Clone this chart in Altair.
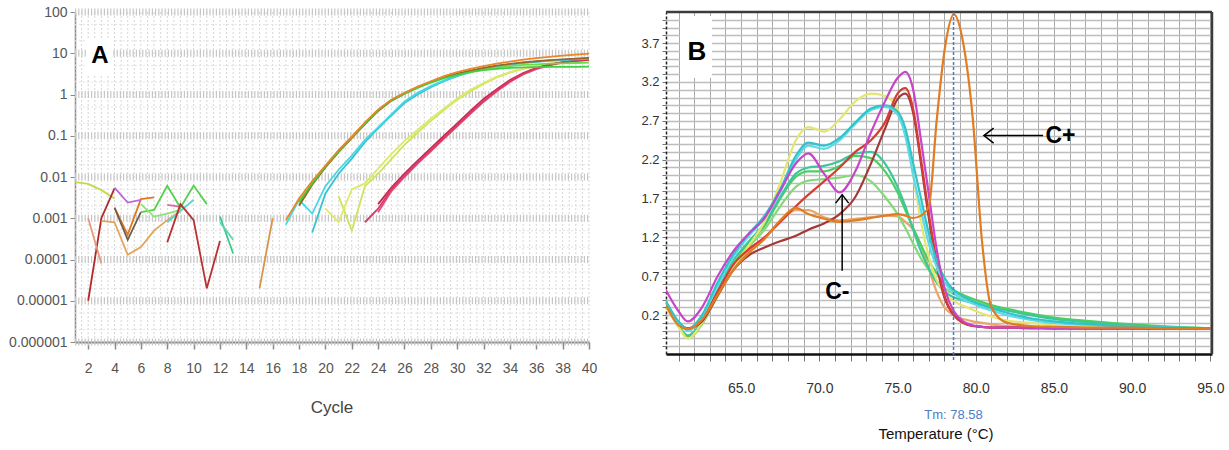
import altair as alt
import pandas as pd

FONT_N = "Liberation Sans, Arial, sans-serif"

# ======================= Panel A : amplification curves (log scale) =======================
A_CYCLE_TICKS = list(range(2, 41, 2))
A_Y_TICKS = [1e-6, 1e-5, 1e-4, 1e-3, 1e-2, 1e-1, 1, 10, 100]

AMP_GREEN_CYC = list(range(18, 41))
AMP_GREEN_VAL = [0.0025, 0.007, 0.018, 0.042, 0.09, 0.2, 0.42, 0.72, 1.05, 1.45, 1.95, 2.5,
                 3.0, 3.5, 3.9, 4.2, 4.4, 4.55, 4.6, 4.65, 4.7, 4.7, 4.75]
AMP_ORANGE_CYC = list(range(17, 41))
AMP_ORANGE_VAL = [0.0009, 0.003, 0.008, 0.019, 0.045, 0.095, 0.21, 0.43, 0.75, 1.1, 1.55, 2.1,
                  2.8, 3.5, 4.2, 4.9, 5.6, 6.3, 7.0, 7.6, 8.2, 8.8, 9.3, 9.8]
AMP_BROWN_CYC = list(range(18, 41))
AMP_BROWN_VAL = [0.002, 0.0065, 0.017, 0.04, 0.088, 0.19, 0.4, 0.7, 1.05, 1.5, 2.0, 2.6,
                 3.2, 3.8, 4.4, 5.0, 5.5, 6.0, 6.4, 6.8, 7.1, 7.4, 7.7]
AMP_LIME_CYC = list(range(18, 41))
AMP_LIME_VAL = [0.0022, 0.0068, 0.018, 0.043, 0.092, 0.2, 0.42, 0.74, 1.1, 1.5, 2.0, 2.55,
                3.1, 3.6, 4.1, 4.5, 4.9, 5.2, 5.4, 5.6, 5.7, 5.8, 5.9]
AMP_CYAN1_CYC = list(range(17, 41))
AMP_CYAN1_VAL = [0.0007, 0.0028, 0.0013, 0.006, 0.015, 0.033, 0.08, 0.16, 0.33, 0.68, 1.1, 1.6,
                 2.2, 2.9, 3.6, 4.3, 4.9, 5.4, 5.9, 6.3, 6.7, 7.0, 7.3, 7.6]
AMP_CYAN2_CYC = list(range(19, 41))
AMP_CYAN2_VAL = [0.00045, 0.004, 0.012, 0.028, 0.07, 0.15, 0.31, 0.62, 1.0, 1.5, 2.1, 2.8,
                 3.5, 4.2, 4.8, 5.3, 5.8, 6.2, 6.5, 6.8, 7.1, 7.3]
AMP_YELLOW1_CYC = list(range(20, 41))
AMP_YELLOW1_VAL = [0.0017, 0.0008, 0.005, 0.007, 0.016, 0.036, 0.075, 0.14, 0.26, 0.46, 0.8,
                   1.3, 1.9, 2.7, 3.5, 4.3, 5.0, 5.6, 6.1, 6.5, 6.9]
AMP_YELLOW2_CYC = list(range(21, 41))
AMP_YELLOW2_VAL = [0.0035, 0.0005, 0.006, 0.012, 0.027, 0.06, 0.12, 0.23, 0.42, 0.75, 1.2,
                   1.8, 2.6, 3.4, 4.2, 4.9, 5.5, 6.0, 6.4, 6.8]
AMP_CRIMSON1_CYC = list(range(23, 41))
AMP_CRIMSON1_VAL = [0.0008, 0.0017, 0.005, 0.011, 0.023, 0.045, 0.09, 0.18, 0.36, 0.7, 1.25,
                    2.1, 3.2, 4.3, 5.3, 6.1, 6.7, 7.2]
AMP_CRIMSON2_CYC = list(range(24, 41))
AMP_CRIMSON2_VAL = [0.0022, 0.0055, 0.012, 0.025, 0.05, 0.1, 0.2, 0.4, 0.78, 1.35, 2.25,
                    3.3, 4.4, 5.3, 6.0, 6.5, 6.9]
AMP_CRIMSON3_CYC = list(range(24, 41))
AMP_CRIMSON3_VAL = [0.0014, 0.0045, 0.01, 0.021, 0.042, 0.085, 0.17, 0.34, 0.66, 1.2, 2.0,
                    3.05, 4.1, 5.1, 5.9, 6.5, 7.0]

N_OLIVE_CYC, N_OLIVE_VAL = [1, 2, 3, 4], [0.0075, 0.0068, 0.0048, 0.003]
N_DKRED1_CYC, N_DKRED1_VAL = [2, 3, 4], [0.00001, 0.001, 0.0053]
N_SALMON_CYC, N_SALMON_VAL = [2, 3], [0.001, 0.00008]
N_TAN_CYC = [3, 4, 5, 6, 7, 8, 9]
N_TAN_VAL = [0.00086, 0.0008, 0.00013, 0.0002, 0.0005, 0.0009, 0.0015]
N_ORANGE_CYC, N_ORANGE_VAL = [4, 5, 6, 7], [0.0018, 0.0004, 0.0029, 0.0032]
N_GRAY_CYC, N_GRAY_VAL = [4, 5, 6], [0.0018, 0.0003, 0.0014]
N_VIOLET_CYC, N_VIOLET_VAL = [4, 5, 6], [0.0055, 0.0024, 0.0028]
N_GREEN_CYC = [6, 7, 8, 9, 10, 11]
N_GREEN_VAL = [0.0014, 0.0016, 0.0061, 0.0018, 0.0062, 0.0022]
N_LTGREEN_CYC, N_LTGREEN_VAL = [6, 7, 8, 9], [0.0022, 0.0011, 0.0013, 0.0016]
N_CYAN_CYC, N_CYAN_VAL = [8, 9, 10], [0.0008, 0.0015, 0.0028]
N_PINK_CYC, N_PINK_VAL = [8, 9], [0.0021, 0.0019]
N_DKRED2_CYC = [8, 9, 10, 11, 12]
N_DKRED2_VAL = [0.00026, 0.0022, 0.0009, 0.00002, 0.00028]
N_TEAL1_CYC, N_TEAL1_VAL = [12, 13], [0.0011, 0.00014]
N_TEAL2_CYC, N_TEAL2_VAL = [12, 13], [0.0008, 0.0003]
N_ORANGE2_CYC, N_ORANGE2_VAL = [15, 16], [0.00002, 0.001]

A_CURVES = {
    "n_olive": (N_OLIVE_CYC, N_OLIVE_VAL, "#c5d84a"),
    "n_dkred1": (N_DKRED1_CYC, N_DKRED1_VAL, "#b02a2a"),
    "n_salmon": (N_SALMON_CYC, N_SALMON_VAL, "#e49a78"),
    "n_tan": (N_TAN_CYC, N_TAN_VAL, "#e2a55a"),
    "n_orange": (N_ORANGE_CYC, N_ORANGE_VAL, "#e07a20"),
    "n_gray": (N_GRAY_CYC, N_GRAY_VAL, "#6e5e50"),
    "n_violet": (N_VIOLET_CYC, N_VIOLET_VAL, "#c065e0"),
    "n_green": (N_GREEN_CYC, N_GREEN_VAL, "#55d04a"),
    "n_ltgreen": (N_LTGREEN_CYC, N_LTGREEN_VAL, "#8fe07a"),
    "n_cyan": (N_CYAN_CYC, N_CYAN_VAL, "#5ad6d0"),
    "n_pink": (N_PINK_CYC, N_PINK_VAL, "#e06aa8"),
    "n_dkred2": (N_DKRED2_CYC, N_DKRED2_VAL, "#b83232"),
    "n_teal1": (N_TEAL1_CYC, N_TEAL1_VAL, "#3cc88a"),
    "n_teal2": (N_TEAL2_CYC, N_TEAL2_VAL, "#5ad6b0"),
    "n_orange2": (N_ORANGE2_CYC, N_ORANGE2_VAL, "#d8954a"),
    "a_yellow2": (AMP_YELLOW2_CYC, AMP_YELLOW2_VAL, "#cde45c"),
    "a_yellow1": (AMP_YELLOW1_CYC, AMP_YELLOW1_VAL, "#dfe86b"),
    "a_crimson3": (AMP_CRIMSON3_CYC, AMP_CRIMSON3_VAL, "#e2507e"),
    "a_crimson2": (AMP_CRIMSON2_CYC, AMP_CRIMSON2_VAL, "#c8284e"),
    "a_crimson1": (AMP_CRIMSON1_CYC, AMP_CRIMSON1_VAL, "#d83a6a"),
    "a_cyan2": (AMP_CYAN2_CYC, AMP_CYAN2_VAL, "#36c4d4"),
    "a_cyan1": (AMP_CYAN1_CYC, AMP_CYAN1_VAL, "#49d6e4"),
    "a_lime": (AMP_LIME_CYC, AMP_LIME_VAL, "#6ddc4a"),
    "a_brown": (AMP_BROWN_CYC, AMP_BROWN_VAL, "#9b6428"),
    "a_green": (AMP_GREEN_CYC, AMP_GREEN_VAL, "#3fcf3f"),
    "a_orange": (AMP_ORANGE_CYC, AMP_ORANGE_VAL, "#e8862a"),
}

A_GRID_CYCLES = [1 + 0.5 * i for i in range(79)]
A_GRID_MINOR = [k * 10.0 ** e for e in range(-6, 2) for k in (2, 5)]

# ======================= Panel B : melting curves =======================
MELT_T = [60.2, 61.0, 61.6, 62.5, 63.5, 64.5, 65.5, 66.5, 67.5, 68.5,
          69.3, 70.3, 71.3, 72.3, 73.3, 74.2, 75.0, 75.5, 76.0, 76.5,
          77.0, 77.5, 78.0, 78.6, 79.2, 79.8, 80.4, 81.0, 82.0, 83.5,
          85.0, 87.5, 90.0, 92.5, 95.0]
MELT_CYAN1 = [0.38, 0.12, 0.02, 0.2, 0.62, 0.98, 1.25, 1.48, 1.82, 2.25,
              2.42, 2.38, 2.48, 2.68, 2.86, 2.9, 2.82, 2.6, 2.15, 1.7,
              1.25, 0.9, 0.68, 0.52, 0.44, 0.38, 0.33, 0.29, 0.23, 0.16,
              0.12, 0.08, 0.05, 0.04, 0.03]
MELT_CYAN2 = [0.36, 0.1, 0.0, 0.18, 0.58, 0.95, 1.22, 1.45, 1.78, 2.2,
              2.38, 2.34, 2.45, 2.66, 2.84, 2.88, 2.78, 2.5, 2.0, 1.55,
              1.12, 0.82, 0.62, 0.48, 0.4, 0.35, 0.3, 0.26, 0.2, 0.14,
              0.1, 0.07, 0.05, 0.04, 0.03]
MELT_YELLOW = [0.3, 0.05, -0.1, 0.1, 0.45, 0.82, 1.1, 1.4, 1.9, 2.45,
               2.62, 2.56, 2.72, 2.95, 3.05, 3.02, 2.85, 2.55, 2.0, 1.4,
               0.95, 0.65, 0.48, 0.38, 0.32, 0.27, 0.22, 0.18, 0.13, 0.1,
               0.07, 0.05, 0.04, 0.03, 0.03]
MELT_MAGENTA = [0.52, 0.25, 0.12, 0.3, 0.7, 1.02, 1.25, 1.45, 1.8, 2.15,
                2.28, 2.02, 1.78, 2.05, 2.55, 2.95, 3.25, 3.33, 3.1, 2.45,
                1.75, 1.05, 0.55, 0.25, 0.12, 0.07, 0.05, 0.04, 0.04, 0.04,
                0.03, 0.03, 0.03, 0.03, 0.03]
MELT_RED = [0.35, 0.1, 0.03, 0.15, 0.5, 0.85, 1.05, 1.2, 1.4, 1.6,
            1.75, 1.92, 2.1, 2.3, 2.45, 2.68, 3.05, 3.12, 2.85, 2.2,
            1.5, 0.9, 0.45, 0.2, 0.1, 0.06, 0.05, 0.04, 0.04, 0.04,
            0.03, 0.03, 0.03, 0.03, 0.03]
MELT_BROWN = [0.34, 0.09, 0.03, 0.12, 0.45, 0.78, 0.97, 1.07, 1.15, 1.22,
              1.3, 1.38, 1.5, 1.72, 2.15, 2.6, 2.98, 3.05, 2.8, 2.15,
              1.45, 0.85, 0.42, 0.2, 0.1, 0.06, 0.05, 0.04, 0.04, 0.03,
              0.03, 0.03, 0.03, 0.03, 0.03]
MELT_GREEN1 = [0.36, 0.08, -0.08, 0.1, 0.5, 0.85, 1.12, 1.35, 1.7, 1.98,
               2.05, 2.05, 2.12, 2.25, 2.22, 2.05, 1.78, 1.55, 1.32, 1.1,
               0.9, 0.74, 0.62, 0.52, 0.46, 0.41, 0.37, 0.33, 0.28, 0.22,
               0.17, 0.12, 0.08, 0.05, 0.03]
MELT_GREEN2 = [0.35, 0.06, -0.1, 0.08, 0.45, 0.8, 1.08, 1.3, 1.6, 1.85,
               1.93, 1.95, 1.97, 2.0, 1.92, 1.72, 1.5, 1.32, 1.12, 0.93,
               0.78, 0.64, 0.55, 0.47, 0.42, 0.38, 0.35, 0.32, 0.27, 0.21,
               0.16, 0.11, 0.07, 0.05, 0.03]
MELT_GREEN3 = [0.34, 0.05, -0.06, 0.12, 0.52, 0.9, 1.15, 1.38, 1.72, 2.02,
               2.1, 2.12, 2.18, 2.28, 2.3, 2.15, 1.85, 1.6, 1.3, 1.02,
               0.8, 0.62, 0.5, 0.43, 0.39, 0.36, 0.33, 0.3, 0.26, 0.2,
               0.15, 0.1, 0.07, 0.04, 0.03]
MELT_TAN = [0.34, 0.08, 0.03, 0.15, 0.48, 0.8, 1.02, 1.2, 1.4, 1.55,
            1.55, 1.46, 1.42, 1.44, 1.46, 1.48, 1.47, 1.4, 1.3, 1.1,
            0.8, 0.5, 0.3, 0.2, 0.15, 0.12, 0.1, 0.08, 0.06, 0.05,
            0.04, 0.03, 0.03, 0.03, 0.03]
MELT_CPLUS = [0.33, 0.07, 0.02, 0.14, 0.46, 0.78, 1.0, 1.18, 1.42, 1.58,
              1.5, 1.44, 1.4, 1.42, 1.45, 1.48, 1.5, 1.48, 1.45, 1.48,
              1.6, 2.7, 3.6, 4.07, 3.7, 2.75, 1.15, 0.3, 0.1, 0.06,
              0.05, 0.04, 0.04, 0.03, 0.03]

B_CURVES = {
    "tan": (MELT_TAN, "#eaa66a"),
    "green2": (MELT_GREEN2, "#86d97a"),
    "green1": (MELT_GREEN1, "#4ccf5e"),
    "green3": (MELT_GREEN3, "#3cc79a"),
    "yellow": (MELT_YELLOW, "#e4e672"),
    "brown": (MELT_BROWN, "#a23a3a"),
    "red": (MELT_RED, "#d63c32"),
    "cyan2": (MELT_CYAN2, "#5fd9ea"),
    "cyan1": (MELT_CYAN1, "#2fc4c9"),
    "magenta": (MELT_MAGENTA, "#c844c8"),
    "cplus": (MELT_CPLUS, "#e07c22"),
}

B_X_DOMAIN = [60.2, 95.1]
B_Y_DOMAIN = [-0.3, 4.1]
B_X_TICKVALS = list(range(61, 96))
B_Y_TICKVALS = [round(-0.2 + 0.1 * i, 1) for i in range(43)]
TM_VALUE = 78.58

CPLUS_ARROW_T, CPLUS_ARROW_V = [80.52, 84.3], [2.51, 2.51]
CMINUS_ARROW_T, CMINUS_ARROW_V = [71.46, 71.46], [1.75, 0.77]
CPLUS_LABEL = ("C+", 84.45, 2.51)
CMINUS_LABEL = ("C-", 71.15, 0.5)

A_W, A_H = 514, 330
B_W, B_H = 546, 342

# ------------------------- build panel A -------------------------
a_rows = []
for name, (cyc, val, _c) in A_CURVES.items():
    for c, v in zip(cyc, val):
        a_rows.append({"curveA": name, "cycle": c, "value": v})
a_df = pd.DataFrame(a_rows)
a_names = list(A_CURVES.keys())
a_colors = [A_CURVES[n][2] for n in a_names]

xA = alt.X("cycle:Q", scale=alt.Scale(domain=[1, 40], nice=False, zero=False),
           axis=alt.Axis(values=A_CYCLE_TICKS, title=None, grid=False,
                         domainColor="#8a8a8a", domainWidth=2, tickColor="#8a8a8a",
                         tickSize=7, tickWidth=1.5, labelFont=FONT_N, labelFontSize=14,
                         labelColor="#555555", labelPadding=12, labelOverlap=False,
                         labelFlush=False))
yA = alt.Y("value:Q", scale=alt.Scale(type="log", domain=[1e-6, 100], nice=False),
           axis=alt.Axis(values=A_Y_TICKS, title=None, grid=False,
                         labelExpr="datum.value >= 1 ? format(datum.value, 'd') : format(datum.value, '.6~f')",
                         domainColor="#8a8a8a", domainWidth=1.5, tickColor="#8a8a8a",
                         tickSize=5, labelFont=FONT_N, labelFontSize=14,
                         labelColor="#555555", labelOverlap=False, labelFlush=False,
                         labelPadding=3))

gridA_v = alt.Chart(pd.DataFrame({"cycle": A_GRID_CYCLES})).mark_rule(
    color="#d6d6d6", strokeWidth=1, strokeDash=[2, 2]
).encode(x=xA, y=alt.value(0), y2=alt.value(A_H))
gridA_minor = alt.Chart(pd.DataFrame({"value": A_GRID_MINOR})).mark_rule(
    color="#e2e2e2", strokeWidth=1, strokeDash=[2, 2]
).encode(y=yA, x=alt.value(0), x2=alt.value(A_W))
gridA_major = alt.Chart(pd.DataFrame({"value": A_Y_TICKS})).mark_rule(
    color="#c6c6c6", strokeWidth=7, strokeDash=[1.2, 2]
).encode(y=yA, x=alt.value(0), x2=alt.value(A_W))

linesA = alt.Chart(a_df).mark_line(strokeWidth=1.8, clip=True).encode(
    x=xA, y=yA,
    color=alt.Color("curveA:N", scale=alt.Scale(domain=a_names, range=a_colors), legend=None),
)
boxA = alt.Chart(pd.DataFrame({"k": [0]})).mark_rect(color="white").encode(
    x=alt.value(12), x2=alt.value(38), y=alt.value(28), y2=alt.value(62))
labelA = alt.Chart(pd.DataFrame({"label": ["A"]})).mark_text(
    font=FONT_N, fontWeight="bold", fontSize=24, color="black"
).encode(x=alt.value(25), y=alt.value(44), text="label:N")
titleA = alt.Chart(pd.DataFrame({"label": ["Cycle"]})).mark_text(
    font=FONT_N, fontSize=17, color="#444444"
).encode(x=alt.value(A_W / 2), y=alt.value(A_H + 66), text="label:N")

chartA = alt.layer(gridA_v, gridA_minor, gridA_major, linesA, boxA, labelA, titleA).properties(
    width=A_W, height=A_H, view=alt.ViewBackground(stroke="transparent"))

# ------------------------- build panel B -------------------------
b_rows = []
for name, (vals, _c) in B_CURVES.items():
    for t, v in zip(MELT_T, vals):
        b_rows.append({"curveB": name, "temp": t, "value": v})
b_df = pd.DataFrame(b_rows)
b_names = list(B_CURVES.keys())
b_colors = [B_CURVES[n][1] for n in b_names]

xB = alt.X("temp:Q", scale=alt.Scale(domain=B_X_DOMAIN, nice=False, zero=False),
           axis=alt.Axis(values=B_X_TICKVALS, title=None,
                         labelExpr="datum.value % 5 == 0 ? format(datum.value, '.1f') : ''",
                         grid=True, gridColor="#a9a9a9", gridWidth=1,
                         domainColor="#111111", domainWidth=2.5, tickColor="#777777",
                         tickSize=7, labelFont=FONT_N, labelFontSize=14, labelColor="#333333",
                         labelPadding=20, labelOverlap=False, labelFlush=False))
yB = alt.Y("value:Q", scale=alt.Scale(domain=B_Y_DOMAIN, nice=False, zero=False),
           axis=alt.Axis(values=B_Y_TICKVALS, title=None,
                         labelExpr="datum.value > 0 && (round(datum.value * 10) - 2) % 5 == 0 ? format(datum.value, '.1f') : ''",
                         grid=True, gridColor="#bdbdbd", gridWidth=1.3,
                         domainColor="#222222", domainDash=[3, 2], domainWidth=1.5,
                         tickColor="#777777", tickSize=4, labelFont=FONT_N, labelFontSize=13,
                         labelColor="#333333", labelOverlap=False, labelFlush=False,
                         labelPadding=3))

linesB = alt.Chart(b_df).mark_line(strokeWidth=2.2, interpolate="monotone", clip=True).encode(
    x=xB, y=yB,
    color=alt.Color("curveB:N", scale=alt.Scale(domain=b_names, range=b_colors), legend=None),
)
frameTop = alt.Chart(pd.DataFrame({"temp": [B_X_DOMAIN[0]], "temp2": [B_X_DOMAIN[1]],
                                   "value": [B_Y_DOMAIN[1]]})).mark_rule(
    color="#3c3c3c", strokeWidth=2.5).encode(x=xB, x2="temp2:Q", y=yB)
frameRight = alt.Chart(pd.DataFrame({"temp": [B_X_DOMAIN[1]], "value": [B_Y_DOMAIN[0]],
                                     "value2": [B_Y_DOMAIN[1]]})).mark_rule(
    color="#3c3c3c", strokeWidth=2.5).encode(x=xB, y=yB, y2="value2:Q")

tmRule = alt.Chart(pd.DataFrame({"temp": [TM_VALUE]})).mark_rule(
    color="#4a78c8", strokeDash=[3, 2], strokeWidth=1.5
).encode(x=xB, y=alt.value(0), y2=alt.value(B_H + 8))
tmText = alt.Chart(pd.DataFrame({"temp": [TM_VALUE], "label": [f"Tm: {TM_VALUE}"]})).mark_text(
    font=FONT_N, fontSize=13, color="#4d7dc4"
).encode(x=xB, y=alt.value(B_H + 61), text="label:N")
titleB = alt.Chart(pd.DataFrame({"label": ["Temperature (°C)"]})).mark_text(
    font=FONT_N, fontSize=15, color="#111111"
).encode(x=alt.value(B_W / 2 - 3), y=alt.value(B_H + 80), text="label:N")

cp_line = alt.Chart(pd.DataFrame({"temp": CPLUS_ARROW_T, "value": CPLUS_ARROW_V})).mark_line(
    color="black", strokeWidth=1.5).encode(x=xB, y=yB)
cp_head = alt.Chart(pd.DataFrame({"temp": CPLUS_ARROW_T[:1], "value": CPLUS_ARROW_V[:1]})).mark_point(
    shape="M 1.3 -1 L 0 0 L 1.3 1", size=225, filled=False, color="black", strokeWidth=1.5,
    opacity=1).encode(x=xB, y=yB)
cm_line = alt.Chart(pd.DataFrame({"temp": CMINUS_ARROW_T, "value": CMINUS_ARROW_V})).mark_line(
    color="black", strokeWidth=1.5).encode(x=xB, y=yB)
cm_head = alt.Chart(pd.DataFrame({"temp": CMINUS_ARROW_T[:1], "value": CMINUS_ARROW_V[:1]})).mark_point(
    shape="M -1 1.3 L 0 0 L 1 1.3", size=169, filled=False, color="black", strokeWidth=1.5,
    opacity=1).encode(x=xB, y=yB)
cp_text = alt.Chart(pd.DataFrame({"temp": [CPLUS_LABEL[1]], "value": [CPLUS_LABEL[2]],
                                  "label": [CPLUS_LABEL[0]]})).mark_text(
    font=FONT_N, fontWeight="bold", fontSize=23, color="black", align="left", baseline="middle"
).encode(x=xB, y=yB, text="label:N")
cm_text = alt.Chart(pd.DataFrame({"temp": [CMINUS_LABEL[1]], "value": [CMINUS_LABEL[2]],
                                  "label": [CMINUS_LABEL[0]]})).mark_text(
    font=FONT_N, fontWeight="bold", fontSize=23, color="black", align="center", baseline="middle"
).encode(x=xB, y=yB, text="label:N")
boxB = alt.Chart(pd.DataFrame({"k": [0]})).mark_rect(color="white").encode(
    x=alt.value(14), x2=alt.value(46), y=alt.value(4), y2=alt.value(66))
labelB = alt.Chart(pd.DataFrame({"label": ["B"]})).mark_text(
    font=FONT_N, fontWeight="bold", fontSize=26, color="black"
).encode(x=alt.value(31), y=alt.value(40), text="label:N")

chartB = alt.layer(linesB, frameTop, frameRight, tmRule, tmText, titleB, cp_line, cp_head,
                   cm_line, cm_head, cp_text, cm_text, boxB, labelB).properties(
    width=B_W, height=B_H, view=alt.ViewBackground(stroke="transparent"))

chart = alt.hconcat(chartA, chartB, spacing=42).resolve_scale(
    color="independent"
).properties(
    padding={"left": 8, "top": 4, "right": 0, "bottom": 0}
).configure(background="white")

chart.save("out.html", embed_options={"renderer": "svg", "actions": False})
